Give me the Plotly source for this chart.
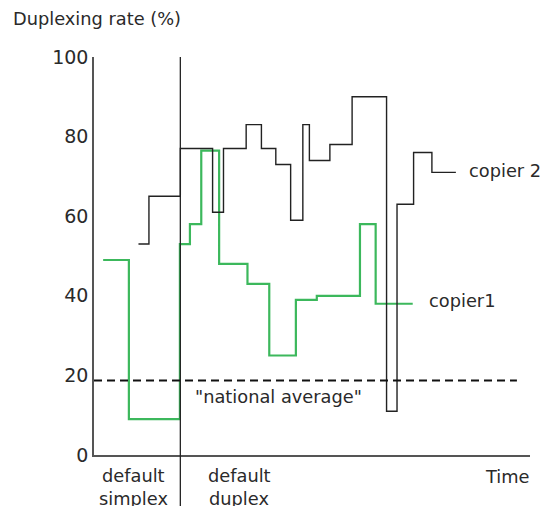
import plotly.graph_objects as go

# Copier 2 (black) step series: time index (0-100) and duplexing rate (%)
copier2_t = [10.2, 12.6, 19.8, 27.2, 29.7, 34.9, 38.4, 41.7, 45.1, 47.9, 49.4, 54.1, 59.2, 67.1, 69.5, 73.3, 77.5, 83.0]
copier2_v = [53, 65, 77, 61, 77, 83, 77, 73, 59, 83, 74, 78, 90, 11, 63, 76, 71, 71]

# Copier 1 (green) step series
copier1_t = [2.1, 8.0, 19.7, 22.0, 24.6, 28.7, 35.2, 40.2, 46.3, 51.1, 61.0, 64.6, 73.1]
copier1_v = [49, 9, 53, 58, 76.5, 48, 43, 25, 39, 40, 58, 38, 38]

national_average = 18.7
switch_time = 19.8
y_ticks = [0, 20, 40, 60, 80, 100]

FONT = "'DejaVu Sans', sans-serif"
TXT = "#2a2a2a"

# page has an 8px body margin: figure sits at (8, 8)
OFF = 8
PLOT_L, PLOT_T, PLOT_W, PLOT_H = 94, 57, 436, 398

fig = go.Figure()
fig.add_trace(go.Scatter(x=copier1_t, y=copier1_v, mode="lines", line_shape="hv",
                         line=dict(color="#3cb85c", width=2.2), showlegend=False, hoverinfo="skip"))
fig.add_trace(go.Scatter(x=copier2_t, y=copier2_v, mode="lines", line_shape="hv",
                         line=dict(color="#222222", width=1.4), showlegend=False, hoverinfo="skip"))

# national average dashed line
fig.add_shape(type="line", xref="x", yref="y", x0=0, x1=97, y0=national_average, y1=national_average,
              line=dict(color="#111111", width=2, dash="8px,5px"))
# divider between default simplex / default duplex
fig.add_shape(type="line", xref="x", yref="paper", x0=switch_time, x1=switch_time, y0=-0.13, y1=1.0,
              line=dict(color="#222222", width=1.3))

def px2paper(px, py):
    return (px - PLOT_L) / PLOT_W, (PLOT_T + PLOT_H - py) / PLOT_H

ann = []
def add_text(text, px, py, xanchor="left", size=17.8):
    x, y = px2paper(px, py)
    ann.append(dict(text=text, x=x, y=y, xref="paper", yref="paper", xanchor=xanchor, yanchor="middle",
                    showarrow=False, font=dict(family=FONT, size=size, color=TXT)))

add_text("Duplexing rate (%)", 11, 19)
add_text("copier 2", 467, 170)
add_text("copier1", 427, 300)
add_text('"national average"', 193, 396)
add_text("default", 133, 475, "center")
add_text("simplex", 133, 498, "center")
add_text("default", 239, 475, "center")
add_text("duplex", 239, 498, "center")
add_text("Time", 483, 477)

fig.update_layout(
    width=548 - OFF, height=506 - OFF,
    margin=dict(l=PLOT_L - OFF, r=548 - PLOT_L - PLOT_W, t=PLOT_T - OFF, b=506 - PLOT_T - PLOT_H),
    paper_bgcolor="white", plot_bgcolor="white",
    annotations=ann,
    xaxis=dict(range=[0, 100], showgrid=False, zeroline=False, showticklabels=False, ticks="",
               showline=True, linecolor="#555555", linewidth=1.5),
    yaxis=dict(range=[0, 100], showgrid=False, zeroline=False, tickvals=y_ticks, ticks="",
               showline=True, linecolor="#555555", linewidth=1.5,
               tickfont=dict(family=FONT, size=19, color=TXT)),
)

fig.write_html("out.html")
